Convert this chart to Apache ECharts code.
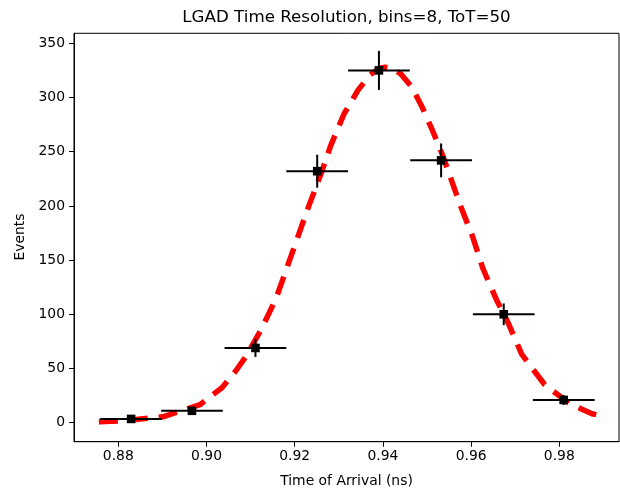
<!DOCTYPE html>
<html>
<head>
<meta charset="utf-8">
<script src="https://cdn.jsdelivr.net/npm/echarts@6/dist/echarts.min.js"></script>
<style>html,body{margin:0;padding:0;background:#fff;}#c{width:620px;height:497px;}</style>
</head>
<body>
<div id="c"></div>
<script>
// Histogram bin centers (ns) and counts with error bars
var binCenters = [0.8829, 0.8967, 0.9111, 0.9251, 0.9391, 0.9532, 0.9674, 0.9810];
var counts     = [3.5, 11, 69, 232, 325, 242, 100, 21];
var xErr       = [0.0070, 0.0070, 0.0070, 0.0070, 0.0070, 0.0070, 0.0070, 0.0070];
var yErr       = [1.9, 3.3, 8.3, 15.2, 18.0, 15.6, 10.0, 4.6];

// Fit curve
var fitX = [0.8756, 0.8811, 0.8901, 0.8985, 0.9035, 0.9065, 0.9092, 0.9126, 0.9158, 0.9185, 0.9205, 0.9232, 0.9260, 0.9282, 0.9312, 0.9344, 0.9371, 0.9393, 0.9405, 0.9420, 0.9440, 0.9465, 0.9488, 0.9512, 0.9536, 0.9577, 0.9604, 0.9627, 0.9658, 0.9683, 0.9715, 0.9767, 0.9824, 0.9874, 0.9884];
var fitY = [0.9, 1.8, 5.5, 16.6, 32.3, 47, 62.7, 87.6, 115, 146, 169, 200, 230, 256, 285, 307, 321, 327, 328, 327, 322, 310, 292, 270, 246, 199, 171, 142, 113, 93, 63, 35, 17.5, 8.3, 7.4];

// Tick labels
var xTicks = [0.88, 0.90, 0.92, 0.94, 0.96, 0.98];
var yTicks = [0, 50, 100, 150, 200, 250, 300, 350];

var XMIN = 0.86995, XMAX = 0.99354, YMIN = -17.5, YMAX = 359.2;
var FONT = 'DejaVu Sans';

var errData = binCenters.map(function (x, i) { return [x, counts[i], xErr[i], yErr[i]]; });
var fitData = fitX.map(function (x, i) { return [x, fitY[i]]; });

var chart = echarts.init(document.getElementById('c'), null, { renderer: 'canvas' });
chart.setOption({
  animation: false,
  backgroundColor: '#fff',
  grid: { left: 74, right: 1, top: 33.3, bottom: 55.3, show: true, borderColor: '#000', borderWidth: 1, backgroundColor: 'transparent', containLabel: false },
  xAxis: {
    type: 'value', min: XMIN, max: XMAX,
    axisLine: { show: true, onZero: false, lineStyle: { color: '#000', width: 1 } },
    axisTick: { show: true, length: 5, customValues: xTicks, lineStyle: { color: '#000', width: 1 } },
    axisLabel: { customValues: xTicks, margin: 8, color: '#000', fontFamily: FONT, fontSize: 13.9,
      formatter: function (v) { return v.toFixed(2); } },
    splitLine: { show: false }
  },
  yAxis: {
    type: 'value', min: YMIN, max: YMAX,
    axisLine: { show: true, onZero: false, lineStyle: { color: '#000', width: 1 } },
    axisTick: { show: true, length: 5, customValues: yTicks, lineStyle: { color: '#000', width: 1 } },
    axisLabel: { customValues: yTicks, margin: 9, color: '#000', fontFamily: FONT, fontSize: 13.9,
      formatter: function (v) { return String(Math.round(v)); } },
    splitLine: { show: false }
  },
  graphic: [
    { type: 'text', x: 346.5, y: 18, style: { text: 'LGAD Time Resolution, bins=8, ToT=50', font: '16.7px "DejaVu Sans"', fill: '#000', textAlign: 'center', textVerticalAlign: 'middle' } },
    { type: 'text', x: 346.5, y: 481, style: { text: 'Time of Arrival (ns)', font: '13.9px "DejaVu Sans"', fill: '#000', textAlign: 'center', textVerticalAlign: 'middle' } },
    { type: 'text', x: 20, y: 237, rotation: Math.PI / 2, style: { text: 'Events', font: '13.9px "DejaVu Sans"', fill: '#000', textAlign: 'center', textVerticalAlign: 'middle' } }
  ],
  series: [
    {
      type: 'line', data: fitData, showSymbol: false, smooth: false, z: 2,
      lineStyle: { color: '#ff0000', width: 5.5, type: [19, 11], cap: 'butt', join: 'round' }
    },
    {
      type: 'custom', data: errData, z: 5,
      renderItem: function (params, api) {
        var x = api.value(0), y = api.value(1), xe = api.value(2), ye = api.value(3);
        var c = api.coord([x, y]);
        var l = api.coord([x - xe, y]), r = api.coord([x + xe, y]);
        var t = api.coord([x, y + ye]), b = api.coord([x, y - ye]);
        var s = 4.3;
        return { type: 'group', children: [
          { type: 'line', shape: { x1: l[0], y1: l[1], x2: r[0], y2: r[1] }, style: { stroke: '#000', lineWidth: 2 } },
          { type: 'line', shape: { x1: t[0], y1: t[1], x2: b[0], y2: b[1] }, style: { stroke: '#000', lineWidth: 2 } },
          { type: 'rect', shape: { x: c[0] - s, y: c[1] - s, width: 2 * s, height: 2 * s }, style: { fill: '#000' } }
        ] };
      }
    }
  ]
});
</script>
</body>
</html>
